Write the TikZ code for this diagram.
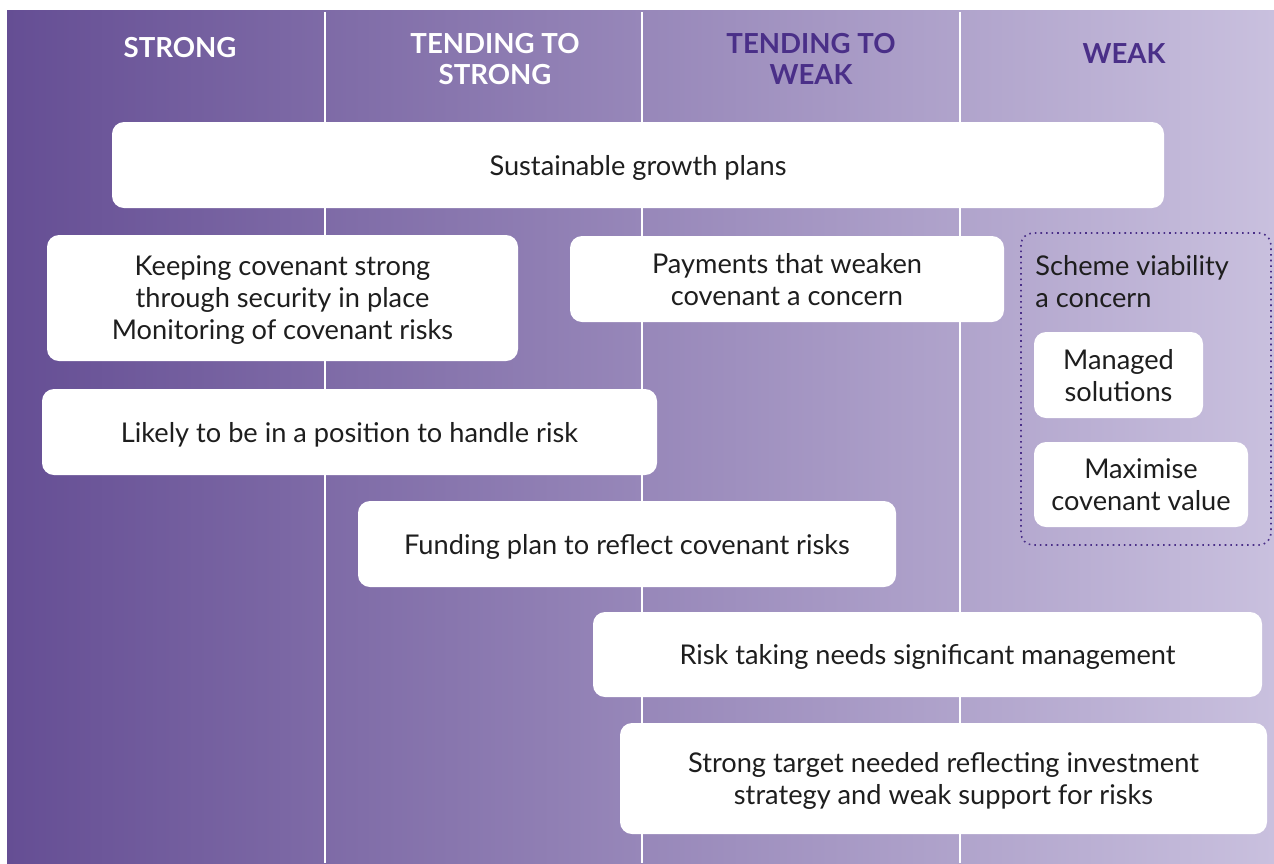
\documentclass[tikz,border=0pt]{standalone}
\usepackage{fontspec}
\setmainfont{Lato}
\usetikzlibrary{positioning}
\definecolor{plumdark}{RGB}{101,78,148}
\definecolor{plumlight}{RGB}{201,192,222}
\definecolor{plumink}{RGB}{74,47,136}
\definecolor{cardtext}{RGB}{30,30,30}

\begin{document}
\begin{tikzpicture}[x=0.5pt,y=-0.5pt,
  card/.style={fill=white, rounded corners=6pt, align=center, inner sep=0pt,
    text depth=0pt, text=cardtext, font=\fontsize{13.6}{16}\selectfont},
  head/.style={align=center, font=\fontsize{13.8}{15.5}\selectfont\bfseries},
  divider/.style={white, line width=1.1pt}]
\useasboundingbox (0,0) rectangle (1274,863);
\shade [left color=plumdark, right color=plumlight] (7,10) rectangle (1274,863);
% column dividers
\foreach \x in {325,642,960}
  \draw [divider] (\x,12) -- (\x,863);

% column headings
\node [head, text=white] (hstrong) at (180,48) {STRONG};
\node [head, text=white] (htstrong) at (495,59) {TENDING TO\\STRONG};
\node [head, text=plumink] (htweak) at (811,59) {TENDING TO\\WEAK};
\node [head, text=plumink] (hweak) at (1124,54) {WEAK};

% cards
\node [card, minimum width=526pt, minimum height=43pt] (growth) at (638,165) {Sustainable growth plans};
\node [card, minimum width=235.5pt, minimum height=63pt] (keeping) at (282.5,298)
  {Keeping covenant strong\\through security in place\\Monitoring of covenant risks};
\node [card, minimum width=217pt, minimum height=43pt] (payments) at (787,279)
  {Payments that weaken\\covenant a concern};
\node [card, minimum width=307.5pt, minimum height=43pt] (likely) at (349.5,432)
  {Likely to be in a position to handle risk};
\node [card, minimum width=269pt, minimum height=43pt] (funding) at (627,544)
  {Funding plan to reflect covenant risks};
\node [card, minimum width=334.5pt, minimum height=42.5pt] (risk) at (927.5,654.5)
  {Risk taking needs significant management};
\node [card, minimum width=323.5pt, minimum height=55.5pt] (target) at (943.5,778.5)
  {Strong target needed reflecting investment\\strategy and weak support for risks};

% weak covenant group
\draw [plumink, dotted, line width=0.8pt, rounded corners=6pt] (1021,233) rectangle (1271,545);
\node [align=left, anchor=west, inner sep=0pt, text=cardtext,
  font=\fontsize{13.6}{16}\selectfont] (viability) at (1035,282) {Scheme viability\\a concern};
\node [card, minimum width=84.5pt, minimum height=43pt] (managed) at (1118.5,375) {Managed\\solutions};
\node [card, minimum width=107pt, minimum height=42.5pt] (maximise) at (1141,484.5) {Maximise\\covenant value};
\end{tikzpicture}
\end{document}
